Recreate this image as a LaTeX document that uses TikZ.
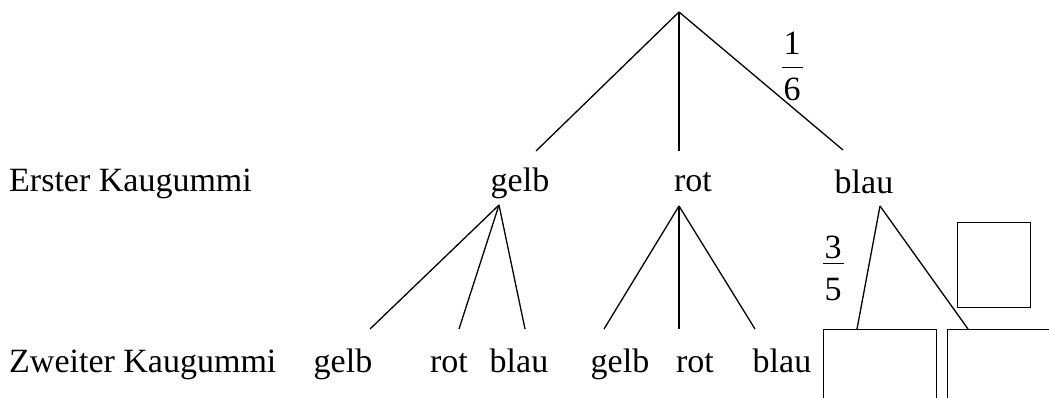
\documentclass[tikz,border=0pt]{standalone}
\usepackage{fontspec}
\setmainfont{Liberation Serif}
\newcommand{\kgfont}{\fontsize{34pt}{40pt}\selectfont}
\tikzset{
  kglabel/.style={anchor=base,inner sep=0pt,font=\kgfont},
  kglabelw/.style={anchor=base west,inner sep=0pt,font=\kgfont},
  conn/.style={line width=1.3pt},
  fracbar/.style={line width=0.8pt},
  kgbox/.style={draw,line width=1.3pt,anchor=north west,inner sep=0pt}
}
\begin{document}
\begin{tikzpicture}[x=1pt,y=-1pt]
\useasboundingbox (0,0) rectangle (1049,398);
% row labels
\node[kglabelw] (erst) at (9,192) {Erster Kaugummi};
\node[kglabelw] (zweit) at (9,372) {Zweiter Kaugummi};
% first level labels
\node[kglabel] (g1) at (520,192) {gelb};
\node[kglabel] (r1) at (693,192) {rot};
\node[kglabel] (b1) at (864,194) {blau};
% second level labels
\node[kglabel] (gg) at (343,372) {gelb};
\node[kglabel] (gr) at (449,372) {rot};
\node[kglabel] (gb) at (519,372) {blau};
\node[kglabel] (rg) at (620,372) {gelb};
\node[kglabel] (rr) at (695,372) {rot};
\node[kglabel] (rb) at (782,372) {blau};
% coordinates for connectors
\coordinate (root) at (679,12);
\coordinate (g1t) at (536,151);
\coordinate (r1t) at (679,151);
\coordinate (b1t) at (843,150);
\coordinate (g1b) at (499,205);
\coordinate (r1b) at (679,206);
\coordinate (b1b) at (880,206);
\coordinate (ggt) at (370,329);
\coordinate (grt) at (459,329);
\coordinate (gbt) at (525,329);
\coordinate (rgt) at (604,329);
\coordinate (rrt) at (679,329);
\coordinate (rbt) at (755,329);
\coordinate (bgt) at (857,329);
\coordinate (brt) at (968,329);
% connectors
\draw[conn] (root) -- (g1t);
\draw[conn] (root) -- (r1t);
\draw[conn] (root) -- (b1t);
\draw[conn] (g1b) -- (ggt);
\draw[conn] (g1b) -- (grt);
\draw[conn] (g1b) -- (gbt);
\draw[conn] (r1b) -- (rgt);
\draw[conn] (r1b) -- (rrt);
\draw[conn] (r1b) -- (rbt);
\draw[conn] (b1b) -- (bgt);
\draw[conn] (b1b) -- (brt);
% fractions
\node[kglabel] (n1) at (792,55) {1};
\node[kglabel] (d6) at (792,101) {6};
\coordinate (f1a) at (782,67);
\coordinate (f1b) at (803,67);
\draw[fracbar] (f1a) -- (f1b);
\node[kglabel] (n3) at (833,258) {3};
\node[kglabel] (d5) at (833,300) {5};
\coordinate (f2a) at (823,263);
\coordinate (f2b) at (844,263);
\draw[fracbar] (f2a) -- (f2b);
% boxes
\node[kgbox,minimum width=113pt,minimum height=72pt] (bx1) at (823,329) {};
\node[kgbox,minimum width=110pt,minimum height=72pt] (bx2) at (947,329) {};
\node[kgbox,minimum width=73pt,minimum height=85pt] (bx3) at (957,222) {};
\end{tikzpicture}
\end{document}
